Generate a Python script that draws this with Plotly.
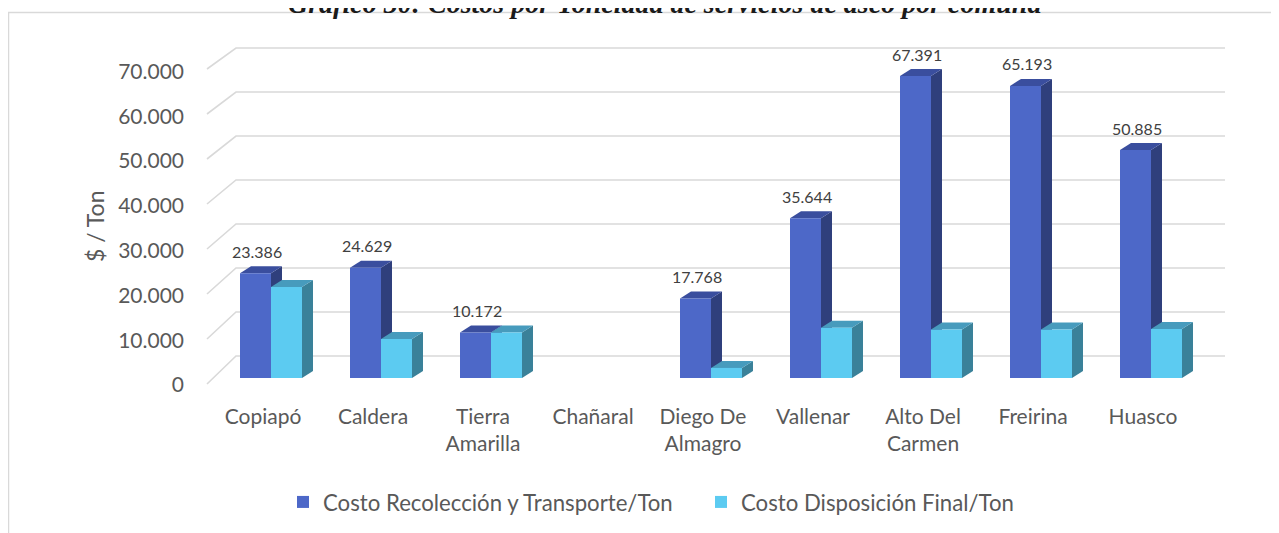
import plotly.graph_objects as go

# ---------------- data ----------------
categories = ["Copiapó", "Caldera", "Tierra Amarilla", "Chañaral", "Diego De Almagro",
              "Vallenar", "Alto Del Carmen", "Freirina", "Huasco"]
tick_labels = ["Copiapó", "Caldera", "Tierra<br>Amarilla", "Chañaral", "Diego De<br>Almagro",
               "Vallenar", "Alto Del<br>Carmen", "Freirina", "Huasco"]
recoleccion = [23386, 24629, 10172, None, 17768, 35644, 67391, 65193, 50885]
disposicion = [20300, 8700, 10150, None, 2250, 11200, 10800, 10850, 10950]
y_ticks = [0, 10000, 20000, 30000, 40000, 50000, 60000, 70000]
series_names = ["Costo Recolección y Transporte/Ton", "Costo Disposición Final/Ton"]
title_text = "Gráfico 30: Costos por Tonelada de servicios de aseo por comuna"
y_title = "$ / Ton"

# ---------------- geometry / style (page pixels) ----------------
W, H = 1279, 533
PAGE_OFF = 8                         # browser body margin
L, R, T, B = 205, 1239, 40, 392      # plot area in page pixels
CAT_PX = 110                         # pixels per category
X0_PX = 271                          # pixel of category 0 centre (front plane)
Y0_PX = 378                          # pixel of value 0 (front plane)
K = 0.00448                          # pixels per unit (front plane)

x_range = [(L - X0_PX) / CAT_PX, (R - X0_PX) / CAT_PX]
y_range = [(Y0_PX - B) / K, (Y0_PX - T) / K]

BAR_W = 31 / CAT_PX
DX = 11 / CAT_PX        # depth of bars (x)
DY = 7 / K              # depth of bars (y)

BLUE = dict(front="#4D68C8", top="#3A4E9E", side="#2F3F7C")
CYAN = dict(front="#5CCBF1", top="#479BBD", side="#3A8199")
GRID = "#D9D9D9"
TXT = "#595959"
FONT = "Lato"


def xp(px):
    return (px - L) / (R - L)


def yp(py):
    return (B - py) / (B - T)


fig = go.Figure()
fig.add_trace(go.Bar(x=list(range(len(categories))), y=recoleccion, name=series_names[0],
                     marker=dict(color=BLUE["front"], line=dict(width=0)),
                     customdata=categories, hovertemplate="%{customdata}: %{y}<extra></extra>"))
fig.add_trace(go.Bar(x=list(range(len(categories))), y=disposicion, name=series_names[1],
                     marker=dict(color=CYAN["front"], line=dict(width=0)),
                     customdata=categories, hovertemplate="%{customdata}: %{y}<extra></extra>"))

shapes = []
# back wall gridlines with left side diagonal (3D look)
xf = (207 - X0_PX) / CAT_PX
xb = (236 - X0_PX) / CAT_PX
xe = (1225 - X0_PX) / CAT_PX
for v in y_ticks:
    vf = (Y0_PX - (384 - 0.0045 * v)) / K
    vb = (Y0_PX - (356 - 0.0044 * v)) / K
    shapes.append(dict(type="path", xref="x", yref="y", layer="below",
                       path=f"M {xf},{vf} L {xb},{vb} L {xe},{vb}",
                       line=dict(color=GRID, width=1.6), fillcolor="rgba(0,0,0,0)"))

# 3D faces of bars
for vals, col, sign in [(recoleccion, BLUE, -1), (disposicion, CYAN, 1)]:
    for i, v in enumerate(vals):
        if v is None:
            continue
        xl = i if sign > 0 else i - BAR_W
        xr = xl + BAR_W
        shapes.append(dict(type="path", xref="x", yref="y", layer="below",
                           path=f"M {xr},0 L {xr},{v} L {xr + DX},{v + DY} L {xr + DX},{DY} Z",
                           fillcolor=col["side"], line=dict(width=0)))
        shapes.append(dict(type="path", xref="x", yref="y", layer="below",
                           path=f"M {xl},{v} L {xr},{v} L {xr + DX},{v + DY} L {xl + DX},{v + DY} Z",
                           fillcolor=col["top"], line=dict(width=0)))

# chart frame (left + top border)
shapes.append(dict(type="path", xref="paper", yref="paper", layer="above",
                   path=f"M {xp(8.5)},{yp(560)} L {xp(8.5)},{yp(12.5)} L {xp(1300)},{yp(12.5)}",
                   line=dict(color=GRID, width=1.5), fillcolor="rgba(0,0,0,0)"))

annotations = []
for i, v in enumerate(recoleccion):
    if v is None:
        continue
    annotations.append(dict(x=i - BAR_W / 2, y=v, xref="x", yref="y",
                            text=f"{v:,}".replace(",", "."), showarrow=False,
                            yshift=22, xshift=1, yanchor="middle",
                            font=dict(family=FONT, size=16, color="#404040")))
annotations.append(dict(x=xp(95), y=yp(227), xref="paper", yref="paper", text=y_title,
                        textangle=-90, showarrow=False, xanchor="center", yanchor="middle",
                        font=dict(family=FONT, size=23, color=TXT)))
annotations.append(dict(x=xp(664), y=yp(21), xref="paper", yref="paper",
                        text=f"<b><i>{title_text}</i></b>", showarrow=False,
                        xanchor="center", yanchor="bottom",
                        font=dict(family="Liberation Serif", size=28, color="#1A1A1A")))

fig.update_layout(
    width=W, height=H, autosize=False,
    margin=dict(l=L - PAGE_OFF, r=W - (R - PAGE_OFF), t=T - PAGE_OFF, b=H - (B - PAGE_OFF), pad=0),
    paper_bgcolor="white", plot_bgcolor="rgba(0,0,0,0)",
    barmode="group", bargap=1 - 2 * BAR_W, bargroupgap=0,
    separators=",.",
    font=dict(family=FONT, color=TXT),
    shapes=shapes, annotations=annotations,
    showlegend=True,
    legend=dict(orientation="h", xref="container", yref="container",
                x=(283 - PAGE_OFF) / W, y=1 - (502 - PAGE_OFF) / H,
                xanchor="left", yanchor="middle",
                entrywidth=373, entrywidthmode="pixels",
                font=dict(family=FONT, size=22.2, color=TXT),
                bgcolor="rgba(0,0,0,0)", itemclick=False, itemdoubleclick=False),
    xaxis=dict(range=x_range, tickmode="array",
               tickvals=[i - 8 / CAT_PX for i in range(len(categories))],
               ticktext=tick_labels, showgrid=False, zeroline=False, showline=False,
               ticks="", ticklabelstandoff=10, automargin=False,
               tickfont=dict(family=FONT, size=21, color=TXT)),
    yaxis=dict(range=y_range, tickmode="array", tickvals=y_ticks, tickformat=",.0f",
               showgrid=False, zeroline=False, showline=False, ticks="",
               ticklabelshift=7, ticklabelstandoff=20, automargin=False,
               tickfont=dict(family=FONT, size=21, color=TXT)),
)

fig.write_html("out.html")
